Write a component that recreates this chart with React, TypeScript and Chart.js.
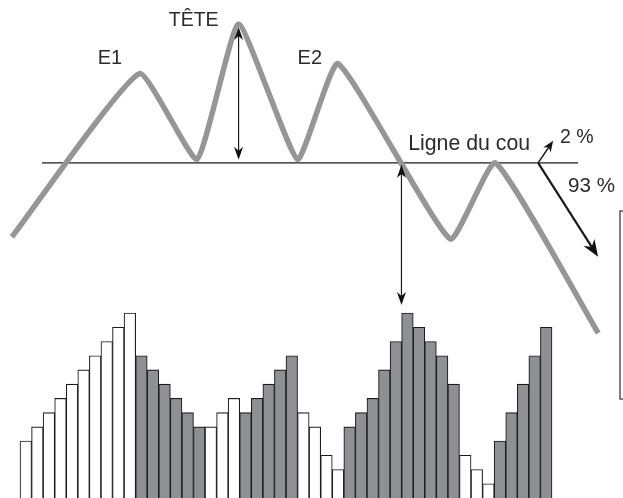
import React, { useEffect, useRef } from "react";
import { Chart, registerables } from "chart.js";

Chart.register(...registerables);

// Volume bars: day index and volume (units), hollow = white bar
const barDays = Array.from({ length: 46 }, (_, i) => i + 1);
const volumes = [4, 5, 6, 7, 8, 9, 10, 11, 12, 13, 10, 9, 8, 7, 6, 5, 5, 6, 7, 6, 7, 8, 9, 10, 6, 5, 3, 2, 5, 6, 7, 9, 11, 13, 12, 11, 10, 8, 3, 2, 1, 4, 6, 8, 10, 12];
const hollow = [
  true, true, true, true, true, true, true, true, true, true,
  false, false, false, false, false, false,
  true, true, true,
  false, false, false, false, false,
  true, true, true, true,
  false, false, false, false, false, false, false, false, false, false,
  true, true, true,
  false, false, false, false, false,
];

// Price line vertices (day, price)
const priceDays = [-0.2, 10.8, 15.8, 19.4, 24.5, 28.0, 37.7, 41.6, 50.5];
const prices = [52.4, 85.2, 68.0, 95.2, 68.0, 87.2, 52.0, 67.3, 33.1];
const necklinePrice = 67.3;
const necklineStartDay = 2.4;
const necklineEndDay = 48.75;
const splitDay = 45.3;

// Labels
const labelE1 = "E1";
const labelHead = "TÊTE";
const labelE2 = "E2";
const labelNeck = "Ligne du cou";
const labelUp = "2 %";
const labelDown = "93 %";

const FAMILY = '"Liberation Sans", Arial, sans-serif';
const TEXT = "#2b2b2b";

function drawHead(ctx: CanvasRenderingContext2D, x: number, y: number, ang: number, len: number, w: number) {
  ctx.beginPath();
  ctx.moveTo(x, y);
  ctx.lineTo(x - len * Math.cos(ang) + (w / 2) * Math.sin(ang), y - len * Math.sin(ang) - (w / 2) * Math.cos(ang));
  ctx.lineTo(x - len * 0.7 * Math.cos(ang), y - len * 0.7 * Math.sin(ang));
  ctx.lineTo(x - len * Math.cos(ang) - (w / 2) * Math.sin(ang), y - len * Math.sin(ang) + (w / 2) * Math.cos(ang));
  ctx.closePath();
  ctx.fill();
}

function arrow(
  ctx: CanvasRenderingContext2D,
  x1: number, y1: number, x2: number, y2: number,
  lw: number, len: number, w: number, both: boolean
) {
  const ang = Math.atan2(y2 - y1, x2 - x1);
  ctx.save();
  ctx.strokeStyle = "#1a1a1a";
  ctx.fillStyle = "#111";
  ctx.lineWidth = lw;
  ctx.beginPath();
  ctx.moveTo(both ? x1 + Math.cos(ang) * len * 0.7 : x1, both ? y1 + Math.sin(ang) * len * 0.7 : y1);
  ctx.lineTo(x2 - Math.cos(ang) * len * 0.7, y2 - Math.sin(ang) * len * 0.7);
  ctx.stroke();
  drawHead(ctx, x2, y2, ang, len, w);
  if (both) drawHead(ctx, x1, y1, ang + Math.PI, len, w);
  ctx.restore();
}

function label(ctx: CanvasRenderingContext2D, text: string, size: number, x: number, y: number, align: CanvasTextAlign) {
  ctx.font = `${size}px ${FAMILY}`;
  ctx.textAlign = align;
  ctx.fillText(text, x, y);
}

const annotationsPlugin = {
  id: "hsAnnotations",
  beforeDatasetsDraw(chart: any) {
    const ctx = chart.ctx as CanvasRenderingContext2D;
    const x = chart.scales.x;
    const p = chart.scales.price;
    const ny = p.getPixelForValue(necklinePrice);
    ctx.save();
    ctx.strokeStyle = "#1a1a1a";
    ctx.lineWidth = 1.2;
    ctx.beginPath();
    ctx.moveTo(x.getPixelForValue(necklineStartDay), ny);
    ctx.lineTo(x.getPixelForValue(necklineEndDay), ny);
    ctx.stroke();
    ctx.restore();
  },
  afterDatasetsDraw(chart: any) {
    const ctx = chart.ctx as CanvasRenderingContext2D;
    const x = chart.scales.x;
    const p = chart.scales.price;
    const v = chart.scales.y;
    const ny = p.getPixelForValue(necklinePrice);

    // head height arrow
    const hx = x.getPixelForValue(priceDays[3]);
    const hy = p.getPixelForValue(prices[3]);
    arrow(ctx, hx, hy + 3, hx, ny - 3, 1.2, 13, 9, true);

    // breakout arrow: where line crosses neckline after E2
    const t = (prices[5] - necklinePrice) / (prices[5] - prices[6]);
    const crossDay = priceDays[5] + t * (priceDays[6] - priceDays[5]);
    const cx = x.getPixelForValue(crossDay);
    const maxVol = Math.max(...volumes);
    const vy = v.getPixelForValue(maxVol);
    arrow(ctx, cx, ny + 2, cx, vy - 8, 1.2, 13, 9, true);

    // split arrows
    const sx = x.getPixelForValue(splitDay);
    arrow(ctx, sx, ny, sx + 15, ny - 22, 1.5, 11, 9, false);
    arrow(ctx, sx, ny, sx + 60, ny + 94, 2.2, 17, 13, false);

    // right bracket box
    ctx.save();
    ctx.strokeStyle = "#555";
    ctx.lineWidth = 1.5;
    ctx.strokeRect(620, 211, 40, 188);
    ctx.restore();

    // labels
    ctx.save();
    ctx.fillStyle = TEXT;
    ctx.textBaseline = "alphabetic";
    const e1x = x.getPixelForValue(priceDays[1]);
    const e1y = p.getPixelForValue(prices[1]);
    label(ctx, labelE1, 20, e1x - 17, e1y - 10, "right");
    label(ctx, labelHead, 19.5, hx - 20, hy + 2, "right");
    const e2x = x.getPixelForValue(priceDays[5]);
    const e2y = p.getPixelForValue(prices[5]);
    label(ctx, labelE2, 20, e2x - 16, e2y, "right");
    label(ctx, labelNeck, 21.3, sx - 8, ny - 13, "right");
    label(ctx, labelUp, 19.5, sx + 22, ny - 20, "left");
    label(ctx, labelDown, 20.6, sx + 30, ny + 29, "left");
    ctx.restore();
  },
};

export default function App() {
  const ref = useRef<HTMLCanvasElement>(null);
  useEffect(() => {
    if (!ref.current) return;
    const chart = new Chart(ref.current, {
      type: "bar",
      data: {
        datasets: [
          {
            type: "line",
            data: priceDays.map((d, i) => ({ x: d, y: prices[i] })),
            xAxisID: "x",
            yAxisID: "price",
            borderColor: "#969698",
            borderWidth: 5.5,
            pointRadius: 0,
            tension: 0.14,
            borderJoinStyle: "round",
            borderCapStyle: "butt",
            fill: false,
            order: 0,
          } as any,
          {
            type: "bar",
            data: barDays.map((d, i) => ({ x: d, y: volumes[i] })),
            xAxisID: "x",
            yAxisID: "y",
            backgroundColor: hollow.map((h) => (h ? "#ffffff" : "#8f9094")),
            borderColor: "#1c1c1c",
            borderWidth: 1.1,
            barPercentage: 1,
            categoryPercentage: 1,
            order: 1,
          } as any,
        ],
      },
      options: {
        animation: false,
        responsive: false,
        layout: { padding: 0 },
        plugins: { legend: { display: false }, tooltip: { enabled: false } },
        scales: {
          x: { type: "linear", min: -1.229, max: 52.64, offset: false, display: false },
          y: { type: "linear", min: 0, max: 35, display: false },
          price: { type: "linear", min: 0, max: 100, display: false },
        },
      },
      plugins: [annotationsPlugin],
    });
    return () => chart.destroy();
  }, []);
  return (
    <div style={{ position: "absolute", left: 0, top: 0, width: 623, height: 498, background: "#fff" }}>
      <canvas ref={ref} width={623} height={498} />
    </div>
  );
}
